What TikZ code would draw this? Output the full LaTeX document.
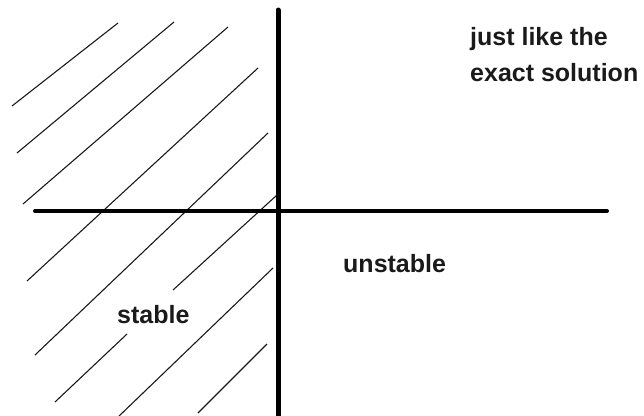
\documentclass[tikz,border=0pt]{standalone}
\usepackage{fontspec}
\setmainfont{Liberation Sans}
\usepackage{tikz}
\usetikzlibrary{positioning}
\definecolor{inkblack}{HTML}{1A1A1A}

\begin{document}
\begin{tikzpicture}[
  x=1pt,y=-1pt,
  axis/.style={draw=black,line width=4pt,line cap=round},
  hatch/.style={draw=inkblack,line width=1.1pt},
  region/.style={anchor=base west,inner sep=0pt,text=inkblack,
    font=\fontsize{25}{36}\selectfont\bfseries,align=left}
]
  \useasboundingbox (0,0) rectangle (644,415);

  \coordinate (west) at (35,211);
  \coordinate (east) at (607,211);
  \coordinate (north) at (278,10);
  \coordinate (south) at (278,418);

  % hatching of the stable half plane
  \foreach \xa/\ya/\xb/\yb in {12/106/118/23, 17/153/174/22, 23/204/228/27,
      27/281/258/68, 35/355/268/133, 173/290/277/195, 117/418/273/268,
      55/402/127/334, 198/413/267/344}
    \draw[hatch] (\xa,\ya) -- (\xb,\yb);

  \draw[axis] (west) -- (east);
  \draw[axis,line width=5pt] (north) -- (south);

  \node[region] (exact) at (470,81) {just like the\\exact solution};
  \node[region] (unstable) at (343,272) {unstable};
  \node[region] (stable) at (117,323) {stable};
\end{tikzpicture}
\end{document}
